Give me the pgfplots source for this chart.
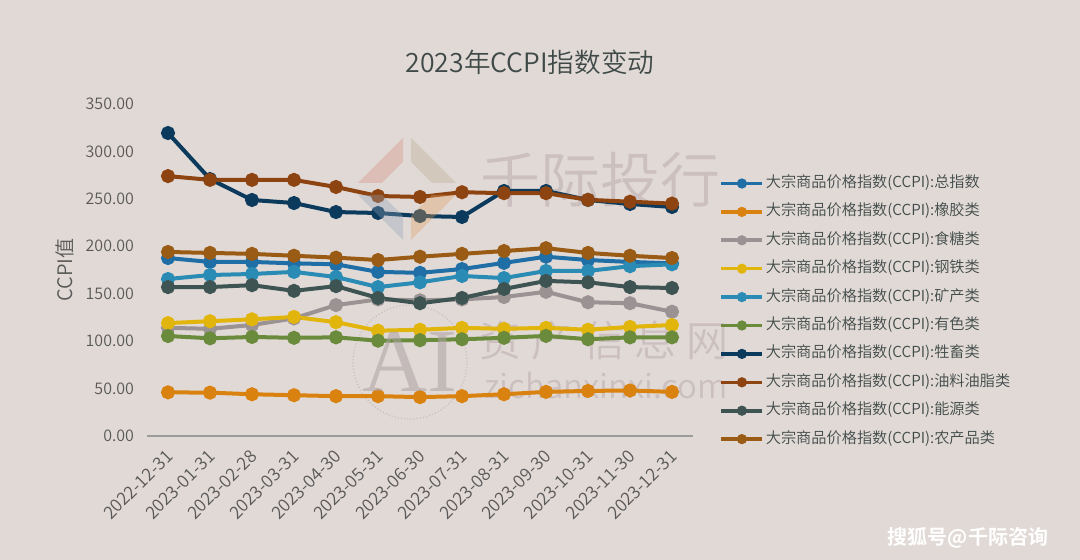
\documentclass[border=0pt]{standalone}
\usepackage{pgfplots}
\pgfplotsset{compat=1.18}
\usepackage{pgfplotstable}
\usepackage{fontspec}
\setmainfont{Noto Sans CJK SC DemiLight}
\newfontfamily\boldcjk{Noto Sans CJK SC Bold}
\newfontfamily\serifwm{Liberation Serif}

\definecolor{bg}{HTML}{E1D9D6}
\definecolor{tickc}{HTML}{595959}
\definecolor{titlec}{HTML}{3F4A48}
\definecolor{wm}{HTML}{CBBFBF}
\definecolor{lgPink}{HTML}{D88E80}
\definecolor{lgOlive}{HTML}{B8AE8E}
\definecolor{lgBlue}{HTML}{8FA3B8}
\definecolor{lgOrange}{HTML}{E0A060}
\definecolor{cTotal}{HTML}{1F6EA6}
\definecolor{cRubber}{HTML}{D9820F}
\definecolor{cSugar}{HTML}{9B9393}
\definecolor{cSteel}{HTML}{E2B50C}
\definecolor{cMining}{HTML}{2A8CB5}
\definecolor{cNonfer}{HTML}{6A8A3C}
\definecolor{cLive}{HTML}{0B3A5C}
\definecolor{cOil}{HTML}{8E4411}
\definecolor{cEnergy}{HTML}{3D5452}
\definecolor{cAgri}{HTML}{9A5B14}

\pgfplotstableread{
x total rubber sugar steel mining nonfer live oil energy agri
0  187.6 46.0 114.0 119.0 165.5 105.4 319.4 274.0 157.0 194.0
1  183.5 45.7 113.0 121.0 169.7 103.0 270.9 270.0 157.0 193.0
2  183.5 44.0 117.0 123.0 170.8 104.4 248.8 270.0 159.0 192.0
3  182.0 43.0 124.0 125.5 173.0 103.5 245.6 270.0 153.0 190.0
4  181.0 42.0 138.0 120.0 167.6 104.0 236.1 262.5 158.0 188.0
5  173.0 42.0 144.0 111.0 157.0 100.5 235.1 253.0 145.5 185.5
6  172.0 41.0 143.0 112.0 162.0 101.0 231.9 252.0 140.0 189.0
7  176.0 42.0 144.0 114.0 168.7 102.0 230.9 257.0 145.5 192.0
8  182.5 44.0 146.5 113.0 166.5 103.5 258.3 256.0 155.0 195.0
9  189.0 46.5 152.0 114.0 174.0 105.5 258.3 256.0 163.5 198.0
10 185.5 47.5 141.0 112.0 174.0 102.0 248.8 249.0 162.0 193.0
11 183.5 48.0 140.0 115.0 179.0 104.0 244.6 247.0 157.0 190.0
12 182.0 46.5 131.0 117.0 181.0 104.0 241.4 245.0 156.0 187.6
}\data

\begin{document}
\begin{tikzpicture}
\path[use as bounding box, fill=bg] (0,0) rectangle (540pt,280pt);
% watermarks (behind)
\node[text=wm, font=\fontsize{30}{30}\selectfont] at (300pt,190pt) {千际投行};
\node[text=wm, font=\fontsize{21}{21}\selectfont] at (302pt,110pt) {资\hspace{5pt}产\hspace{5pt}信\hspace{5pt}息\hspace{5pt}网};
\node[text=wm, font=\fontsize{16.5}{16.5}\selectfont] at (303pt,87pt) {zichanxinxi.com};
\draw[wm, line width=0.6pt, densely dotted] (205pt,99pt) circle (28.5pt);
% title
\node[text=titlec, font=\fontsize{13.3}{15}\selectfont] at (265pt,249pt) {2023年CCPI指数变动};
% caption
\node[text=white, font=\boldcjk\fontsize{10}{12}\selectfont] at (484pt,11pt) {搜狐号@千际咨询};
\begin{axis}[
  at={(73.5pt,62pt)}, anchor=south west,
  scale only axis, width=273pt, height=166pt,
  xmin=-0.5, xmax=12.5, ymin=0, ymax=350,
  clip=false,
  axis x line*=bottom, axis y line*=left,
  x axis line style={draw=tickc!60, line width=0.6pt, -},
  y axis line style={draw=none},
  major tick length=0pt,
  xtick={0,...,12},
  xticklabels={2022-12-31,2023-01-31,2023-02-28,2023-03-31,2023-04-30,2023-05-31,2023-06-30,2023-07-31,2023-08-31,2023-09-30,2023-10-31,2023-11-30,2023-12-31},
  ytick={0,50,...,350},
  /pgf/number format/.cd, fixed, fixed zerofill, precision=2, assume math mode=true,
  /pgfplots/.cd,
  yticklabel style={text=tickc, font=\fontsize{8}{9}\selectfont, xshift=-3pt},
  xticklabel style={text=tickc, font=\fontsize{8.8}{10}\selectfont, rotate=45, anchor=east, yshift=-6.7pt, xshift=-1.8pt},
  ylabel={CCPI值},
  every axis y label/.style={at={(axis description cs:-0.150,0.5)}, rotate=90, anchor=center, text=tickc, font=\fontsize{10}{11}\selectfont},
  every axis plot/.append style={line width=2pt, mark=*, mark size=2.5pt},
  legend image code/.code={\draw[#1, line width=1.8pt, mark size=1.6pt, mark repeat=2, mark phase=2] plot coordinates {(0pt,0pt) (10.25pt,0pt) (20.5pt,0pt)};},
  legend style={at={(axis description cs:1.037,0.800)}, anchor=north west, draw=none, fill=none,
    font=\fontsize{7.6}{9}\selectfont, text=titlec, row sep=5.5pt,
    nodes={inner sep=0.8pt, text height=5.6pt, text depth=1.5pt}},
  legend cell align=left,
]
\addplot[cTotal, mark options={fill=cTotal}] table[x=x,y=total]{\data};
\addlegendentry{大宗商品价格指数(CCPI):总指数}
\addplot[cRubber, mark options={fill=cRubber}] table[x=x,y=rubber]{\data};
\addlegendentry{大宗商品价格指数(CCPI):橡胶类}
\addplot[cSugar, mark options={fill=cSugar}] table[x=x,y=sugar]{\data};
\addlegendentry{大宗商品价格指数(CCPI):食糖类}
\addplot[cSteel, mark options={fill=cSteel}] table[x=x,y=steel]{\data};
\addlegendentry{大宗商品价格指数(CCPI):钢铁类}
\addplot[cMining, mark options={fill=cMining}] table[x=x,y=mining]{\data};
\addlegendentry{大宗商品价格指数(CCPI):矿产类}
\addplot[cNonfer, mark options={fill=cNonfer}] table[x=x,y=nonfer]{\data};
\addlegendentry{大宗商品价格指数(CCPI):有色类}
\addplot[cLive, mark options={fill=cLive}] table[x=x,y=live]{\data};
\addlegendentry{大宗商品价格指数(CCPI):牲畜类}
\addplot[cOil, mark options={fill=cOil}] table[x=x,y=oil]{\data};
\addlegendentry{大宗商品价格指数(CCPI):油料油脂类}
\addplot[cEnergy, mark options={fill=cEnergy}] table[x=x,y=energy]{\data};
\addlegendentry{大宗商品价格指数(CCPI):能源类}
\addplot[cAgri, mark options={fill=cAgri}] table[x=x,y=agri]{\data};
\addlegendentry{大宗商品价格指数(CCPI):农产品类}
\end{axis}
% semi-transparent watermarks on top
\node[text=wm!85!black, opacity=0.55, font=\serifwm\fontsize{45}{45}\selectfont] at (205pt,99pt) {AI};
\fill[lgPink, opacity=0.35] (179pt,188.5pt) -- (201.5pt,211pt) -- (201.5pt,199pt) -- (191pt,188.5pt) -- cycle;
\fill[lgOlive, opacity=0.35] (228pt,188.5pt) -- (205.5pt,211pt) -- (205.5pt,199pt) -- (216pt,188.5pt) -- cycle;
\fill[lgBlue, opacity=0.35] (179pt,182.5pt) -- (201.5pt,160pt) -- (201.5pt,172pt) -- (191pt,182.5pt) -- cycle;
\fill[lgOrange, opacity=0.35] (228pt,182.5pt) -- (205.5pt,160pt) -- (205.5pt,172pt) -- (216pt,182.5pt) -- cycle;
\end{tikzpicture}
\end{document}
